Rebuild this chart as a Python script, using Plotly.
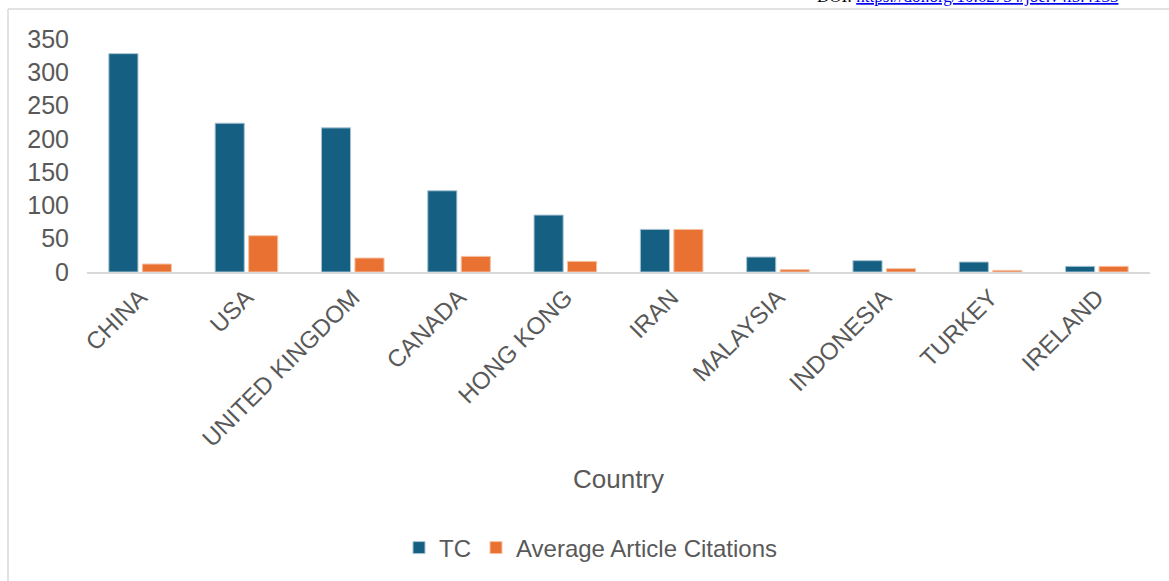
import plotly.graph_objects as go

countries = ["CHINA", "USA", "UNITED KINGDOM", "CANADA", "HONG KONG",
             "IRAN", "MALAYSIA", "INDONESIA", "TURKEY", "IRELAND"]
tc = [328, 223.5, 216.5, 122, 85.5, 64, 22.5, 17, 15, 8.5]
avg_citations = [12, 54.5, 21, 23.5, 16, 64, 3.5, 5, 2.5, 8.5]
y_ticks = [0, 50, 100, 150, 200, 250, 300, 350]

W, H = 1169, 581
L, R, T, B = 87, 19, 39, 309
pw, ph = W - L - R, H - T - B

def px_x(x):
    return (x - L) / pw

def px_y(y):
    return (H - B - y) / ph

FONT = "Liberation Sans, Arial, sans-serif"
GREY = "#595959"

fig = go.Figure()
fig.add_trace(go.Bar(name="TC", x=countries, y=tc,
                     marker=dict(color="#156082", line=dict(color="#A9C4D2", width=1))))
fig.add_trace(go.Bar(name="Average Article Citations", x=countries, y=avg_citations,
                     marker=dict(color="#E97132", line=dict(color="#F5C3A6", width=1))))

fig.update_layout(
    width=W, height=H,
    margin=dict(l=L, r=R, t=T, b=B, autoexpand=False),
    paper_bgcolor="white", plot_bgcolor="white",
    barmode="group", bargap=0.37, bargroupgap=0.13,
    font=dict(family=FONT, color=GREY, size=24),
    showlegend=True,
    legend=dict(orientation="h", x=px_x(591), xanchor="center", y=px_y(548), yanchor="middle",
                font=dict(size=24, color=GREY), itemwidth=30, traceorder="normal",
                bgcolor="rgba(0,0,0,0)"),
    xaxis=dict(tickangle=-45, showgrid=False, showline=True, linecolor="#D9D9D9",
               linewidth=2, ticks="", tickfont=dict(size=24, color=GREY),
               title=dict(text="Country", font=dict(size=26, color=GREY), standoff=19),
               automargin=False),
    yaxis=dict(range=[0, 350], tickvals=y_ticks, showgrid=False, zeroline=False,
               showline=False, ticks="", ticklabelstandoff=17,
               tickfont=dict(size=25, color=GREY), automargin=False),
)

fig.add_annotation(
    xref="paper", yref="paper", x=px_x(815), y=px_y(8), xanchor="left", yanchor="bottom",
    showarrow=False,
    text='DOI: <span style="color:#0000EE;text-decoration:underline">https://doi.org/10.62754/joe.v4i5.4133</span>',
    font=dict(family="Liberation Serif, Times New Roman, serif", size=17, color="black"),
)

fig.add_shape(type="line", xref="paper", yref="paper",
              x0=px_x(8), x1=px_x(1169), y0=px_y(9), y1=px_y(9),
              line=dict(color="#D9D9D9", width=1.5))
fig.add_shape(type="line", xref="paper", yref="paper",
              x0=px_x(8), x1=px_x(8), y0=px_y(9), y1=px_y(581),
              line=dict(color="#D9D9D9", width=1.5))

fig.write_html("out.html", config={"displayModeBar": False},
               post_script="document.body.style.margin='0';")
